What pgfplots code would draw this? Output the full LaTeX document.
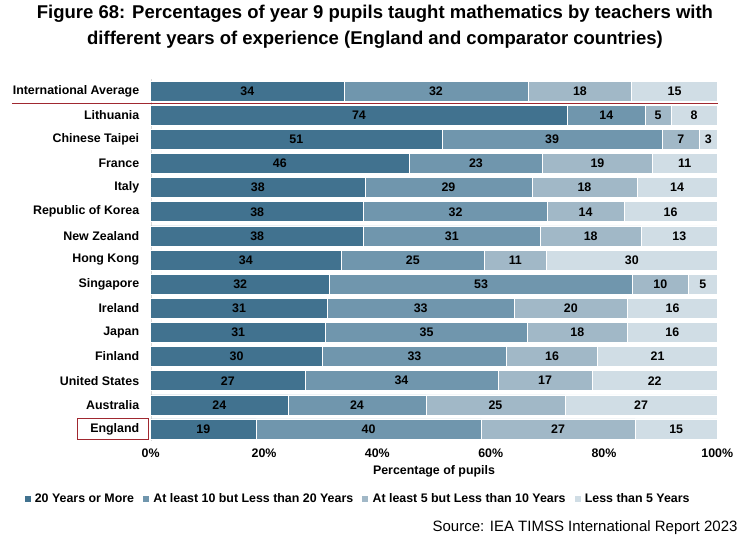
\documentclass[border=0pt]{standalone}
\usepackage{pgfplots}
\pgfplotsset{compat=1.18}
\usepackage{pgfplotstable}
\usepackage{fontspec}
\setmainfont{Liberation Sans}
\definecolor{c1}{RGB}{65,114,143}
\definecolor{c2}{RGB}{112,150,173}
\definecolor{c3}{RGB}{161,184,199}
\definecolor{c4}{RGB}{208,221,229}
\definecolor{redline}{RGB}{160,40,48}
\pgfplotstableread{
row a la b lb c lc d ld
0 34.1 34 32.5 32 18.3 18 15.1 15
1 73.5 74 13.8 14 4.5 5 8.2 8
2 51.4 51 38.9 39 6.5 7 3.2 3
3 45.6 46 23.6 23 19.3 19 11.5 11
4 37.8 38 29.5 29 18.5 18 14.2 14
5 37.6 38 32.4 32 13.5 14 16.5 16
6 37.6 38 31.1 31 17.9 18 13.4 13
7 33.6 34 25.3 25 10.9 11 30.2 30
8 31.6 32 53.4 53 9.9 10 5.1 5
9 31.2 31 32.9 33 20.1 20 15.8 16
10 30.9 31 35.6 35 17.6 18 15.9 16
11 30.3 30 32.5 33 16.1 16 21.1 21
12 27.2 27 34.1 34 16.6 17 22.1 22
13 24.2 24 24.4 24 24.5 25 26.9 27
14 18.6 19 39.7 40 27.2 27 14.5 15
}\datatable
\newcommand{\lblfont}{\fontsize{12.4}{14}\selectfont\bfseries}
\begin{document}
\begin{tikzpicture}
\useasboundingbox (0,0) rectangle (751pt,-541pt);
\node[align=center,font=\fontsize{18.5}{26}\selectfont\bfseries] at (375pt,-27pt) {Figure 68: Percentages of year 9 pupils taught mathematics by teachers with\\different years of experience (England and comparator countries)};
\begin{axis}[
  at={(150.7pt,-79pt)}, anchor=north west,
  scale only axis, width=566.6pt, height=362pt,
  xbar stacked, bar width=20pt,
  xmin=0, xmax=100, ymin=-0.5, ymax=14.5, y dir=reverse,
  ytick={0,...,14},
  yticklabels={International Average, Lithuania, Chinese Taipei, France, Italy, Republic of Korea, New Zealand, Hong Kong, Singapore, Ireland, Japan, Finland, United States, Australia, England},
  xtick={0,20,40,60,80,100},
  xticklabels={0\%,20\%,40\%,60\%,80\%,100\%},
  major tick length=0pt,
  axis lines*=left,
  x axis line style={draw=none},
  y axis line style={draw=black!15},
  tick label style={font=\lblfont},
  yticklabel style={xshift=-8pt},
  xticklabel style={yshift=-4pt},
  xlabel={Percentage of pupils},
  xlabel style={font=\lblfont, at={(axis description cs:0.5,0)}, anchor=center, yshift=-30pt},
  nodes near coords, point meta=explicit symbolic,
  every node near coord/.append style={font=\lblfont, text=black},
  legend columns=4,
  legend style={at={(0.366,0)}, anchor=center, yshift=-58pt, draw=none, fill=none, font=\lblfont,
    /tikz/every even column/.append style={column sep=7pt}},
  legend image code/.code={\fill[#1,draw=none] (0pt,-3pt) rectangle (6pt,3pt); \path (8pt,0pt);},
  clip=false,
]
\addplot[fill=c1, draw=white, line width=0.6pt] table[x=a, y=row, meta=la] {\datatable};
\addplot[fill=c2, draw=white, line width=0.6pt] table[x=b, y=row, meta=lb] {\datatable};
\addplot[fill=c3, draw=white, line width=0.6pt] table[x=c, y=row, meta=lc] {\datatable};
\addplot[fill=c4, draw=white, line width=0.6pt] table[x=d, y=row, meta=ld] {\datatable};
\legend{20 Years or More, At least 10 but Less than 20 Years, At least 5 but Less than 10 Years, Less than 5 Years}
\draw[redline, line width=1.2pt] ([xshift=-138.7pt]axis cs:0,0.5) -- ([xshift=1pt]axis cs:100,0.5);
\draw[redline, line width=0.8pt] ([xshift=-73.7pt,yshift=10.5pt]axis cs:0,14) rectangle ([xshift=-2.7pt,yshift=-10.5pt]axis cs:0,14);
\end{axis}
\node[anchor=east, font=\fontsize{15}{18}\selectfont] at (741pt,-528pt) {Source: IEA TIMSS International Report 2023};
\end{tikzpicture}
\end{document}
